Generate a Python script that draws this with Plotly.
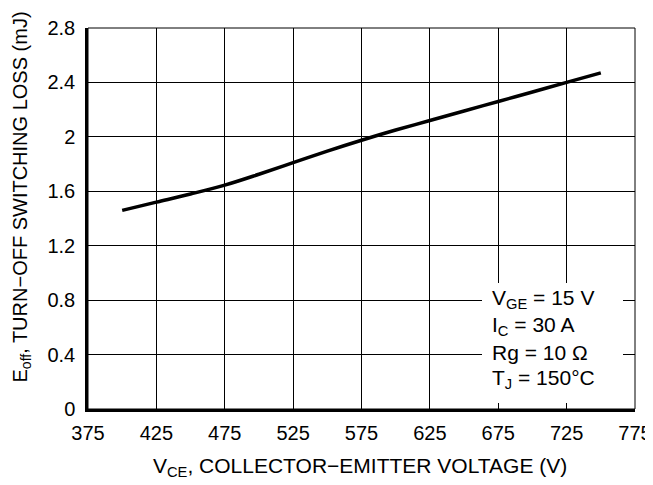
import plotly.graph_objects as go

# Data
vce = [400, 425, 450, 475, 500, 525, 550, 575, 600, 625, 650, 675, 700, 725, 750]
eoff = [1.46, 1.52, 1.58, 1.645, 1.725, 1.81, 1.895, 1.975, 2.05, 2.12, 2.19, 2.26, 2.33, 2.40, 2.47]

x_ticks = [375, 425, 475, 525, 575, 625, 675, 725, 775]
y_ticks = [0, 0.4, 0.8, 1.2, 1.6, 2.0, 2.4, 2.8]
y_tick_labels = ["0", "0.4", "0.8", "1.2", "1.6", "2", "2.4", "2.8"]

cond_lines = ["V<sub>GE</sub> = 15 V", "I<sub>C</sub> = 30 A", "Rg = 10 Ω", "T<sub>J</sub> = 150°C"]

FONT = "Liberation Sans, Arial, sans-serif"

# page body has an 8px default margin, so the figure is shifted by 8px
OFF = 8
W, H = 653 - OFF, 485 - OFF
PL, PR, PT, PB = 88, 635, 28, 409   # plot area in page pixels
L, T = PL - OFF, PT - OFF
R = W - (PR - OFF)
B = H - (PB - OFF)
pw = PR - PL
ph = PB - PT

def px(p):
    return (p - PL) / pw

def py(p):
    return (PB - p) / ph

fig = go.Figure()
fig.add_trace(go.Scatter(
    x=vce, y=eoff, mode="lines",
    line=dict(color="black", width=3.5, shape="spline"),
    hoverinfo="skip", showlegend=False,
))

fig.update_layout(
    width=W, height=H,
    margin=dict(l=L, r=R, t=T, b=B),
    paper_bgcolor="white", plot_bgcolor="white",
    font=dict(family=FONT, size=20, color="black"),
    showlegend=False,
)

fig.update_xaxes(
    range=[375, 775], tickvals=x_ticks, ticktext=[str(v) for v in x_ticks],
    showgrid=True, gridcolor="black", gridwidth=1,
    showline=True, linecolor="black", linewidth=2.5,
    zeroline=False, ticks="", ticklabelstandoff=4, automargin=False,
    tickfont=dict(size=20, family=FONT, color="black"),
)
fig.update_yaxes(
    range=[0, 2.8], tickvals=y_ticks, ticktext=y_tick_labels,
    showgrid=True, gridcolor="black", gridwidth=1,
    showline=True, linecolor="black", linewidth=2.5,
    zeroline=False, ticks="", ticklabelstandoff=6, automargin=False,
    tickfont=dict(size=20, family=FONT, color="black"),
)

# top/right border
fig.add_shape(type="rect", xref="paper", yref="paper", x0=0, x1=1, y0=0, y1=1,
              line=dict(color="black", width=1), fillcolor="rgba(0,0,0,0)", layer="above")

# white box behind conditions text
fig.add_shape(type="rect", xref="paper", yref="paper",
              x0=px(482), x1=px(623), y0=py(403), y1=py(283),
              line=dict(width=0), fillcolor="white", layer="above")

for i, txt in enumerate(cond_lines):
    fig.add_annotation(text=txt, xref="paper", yref="paper",
                       x=px(490), y=py(299 + i * 26.7), xanchor="left", yanchor="middle",
                       showarrow=False, font=dict(size=21, family=FONT, color="black"))

fig.add_annotation(text="V<sub>CE</sub>, COLLECTOR−EMITTER VOLTAGE (V)",
                   xref="paper", yref="paper", x=px(360), y=py(467),
                   xanchor="center", yanchor="middle", showarrow=False,
                   font=dict(size=21, family=FONT, color="black"))
fig.add_annotation(text="E<sub>off</sub>, TURN−OFF SWITCHING LOSS (mJ)",
                   xref="paper", yref="paper", x=px(OFF), y=py(197),
                   xanchor="left", yanchor="middle", textangle=-90, showarrow=False,
                   borderpad=0,
                   font=dict(size=20, family=FONT, color="black"))

fig.write_html("out.html")
